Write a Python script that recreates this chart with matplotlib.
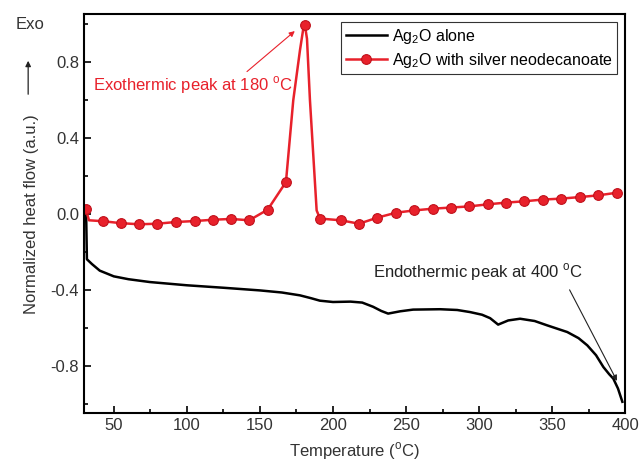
import matplotlib
matplotlib.use("Agg")
import matplotlib.pyplot as plt
from matplotlib.ticker import MultipleLocator
import numpy as np

plt.rcParams['font.family'] = ['Liberation Sans', 'DejaVu Sans']
plt.rcParams['axes.unicode_minus'] = False
plt.rcParams['mathtext.fontset'] = 'custom'
plt.rcParams['mathtext.rm'] = 'Liberation Sans'

# Ag2O alone (black)
black_T = [31.0, 31.6, 35, 40.4, 50, 60, 74.7, 100, 125, 150, 165, 177.4, 185, 191, 200,
           212, 220, 227.4, 233, 237.7, 245.9, 254.8, 273.3, 285, 293.8, 302, 307.5, 313,
           319.9, 328, 338, 346.6, 360.3, 368, 374, 380, 385, 389, 391.8, 395, 398]
black_v = [0.03, -0.24, -0.265, -0.30, -0.33, -0.345, -0.36, -0.377, -0.39, -0.404, -0.415,
           -0.43, -0.445, -0.458, -0.465, -0.463, -0.468, -0.49, -0.512, -0.526, -0.514,
           -0.505, -0.503, -0.507, -0.518, -0.532, -0.55, -0.584, -0.562, -0.553, -0.565,
           -0.588, -0.623, -0.655, -0.693, -0.745, -0.807, -0.845, -0.868, -0.92, -0.99]

# Ag2O with silver neodecanoate (red) - marker points
red_T = [30.8, 42.7, 54.6, 67.3, 79.9, 92.5, 105.5, 118, 130.3, 142.7, 155.3, 167.8,
         180.8, 191.1, 205.3, 217.8, 230.4, 243.2, 255.7, 268.3, 280.8, 293.3, 305.9,
         318.5, 331, 343.6, 356.2, 368.7, 381.3, 394.3]
red_v = [0.026, -0.04, -0.05, -0.056, -0.053, -0.044, -0.039, -0.032, -0.028, -0.035,
         0.021, 0.166, 0.99, -0.026, -0.035, -0.053, -0.021, 0.005, 0.017, 0.026, 0.032,
         0.038, 0.049, 0.058, 0.065, 0.074, 0.079, 0.087, 0.096, 0.11]
# extra points of the red trace between markers (no marker drawn)
red_extra_T = [33.0, 172.8, 177.4, 179.6, 182.2, 184.2, 188.8]
red_extra_v = [-0.035, 0.596, 0.86, 0.97, 0.92, 0.6, 0.017]

all_T = np.array(red_T + red_extra_T)
all_v = np.array(red_v + red_extra_v)
is_marker = np.array([True] * len(red_T) + [False] * len(red_extra_T))
order = np.argsort(all_T)
all_T, all_v, is_marker = all_T[order], all_v[order], is_marker[order]

red = '#e8212b'

fig = plt.figure(figsize=(6.4, 4.69), dpi=100)
ax = fig.add_axes([0.131, 0.119, 0.846, 0.851])

ax.plot(black_T, black_v, color='black', lw=1.8, label='Ag$_2$O alone')
ax.plot(all_T, all_v, color=red, lw=1.8, marker='o', markersize=7,
        markerfacecolor=red, markeredgecolor='#c0101a', markeredgewidth=0.8,
        markevery=list(np.where(is_marker)[0]),
        label='Ag$_2$O with silver neodecanoate')

ax.set_xlim(29.5, 400)
ax.set_ylim(-1.05, 1.05)
ax.xaxis.set_major_locator(MultipleLocator(50))
ax.xaxis.set_minor_locator(MultipleLocator(25))
ax.yaxis.set_minor_locator(MultipleLocator(0.2))
ax.set_yticks([-0.8, -0.4, 0.0, 0.4, 0.8])
ax.set_yticklabels(['-0.8', '-0.4', '0.0', '0.4', '0.8'])
ax.tick_params(which='both', direction='in', labelsize=12, labelcolor='#333333', width=1.2)
ax.tick_params(which='major', length=5)
ax.tick_params(which='minor', length=3)
for s in ax.spines.values():
    s.set_linewidth(1.5)

ax.set_xlabel('Temperature ($^{\\mathrm{o}}$C)', fontsize=12, color='#333333', labelpad=5)
ax.set_ylabel('Normalized heat flow (a.u.)', fontsize=12, color='#333333', labelpad=8)

leg = ax.legend(loc='upper right', fontsize=11.5, frameon=True, fancybox=False,
                edgecolor='#333333', framealpha=1, borderaxespad=0.5, handlelength=2.6,
                handletextpad=0.3, borderpad=0.3, labelspacing=0.3)
leg.get_frame().set_linewidth(0.8)

ax.text(104, 0.675, 'Exothermic peak at 180 $^{\\mathrm{o}}$C', color=red, fontsize=12,
        ha='center', va='center')
ax.annotate('', xy=(175.3, 0.97), xytext=(139.7, 0.738),
            arrowprops=dict(arrowstyle='-|>', color=red, lw=0.8, mutation_scale=8))

ax.text(299.3, -0.31, 'Endothermic peak at 400 $^{\\mathrm{o}}$C', color='#222222', fontsize=12,
        ha='center', va='center')
ax.annotate('', xy=(395.2, -0.893), xytext=(361, -0.388),
            arrowprops=dict(arrowstyle='-|>', color='#222222', lw=0.8, mutation_scale=8))

# Exo label with upward arrow
fig.text(0.047, 0.948, 'Exo', fontsize=12, color='#333333', ha='center', va='center')
fig.add_artist(matplotlib.patches.FancyArrowPatch((0.044, 1 - 97 / 469), (0.044, 1 - 58 / 469),
               transform=fig.transFigure, arrowstyle='-|>', mutation_scale=8,
               color='#222222', lw=0.9))

fig.savefig('out.png', dpi=100)
